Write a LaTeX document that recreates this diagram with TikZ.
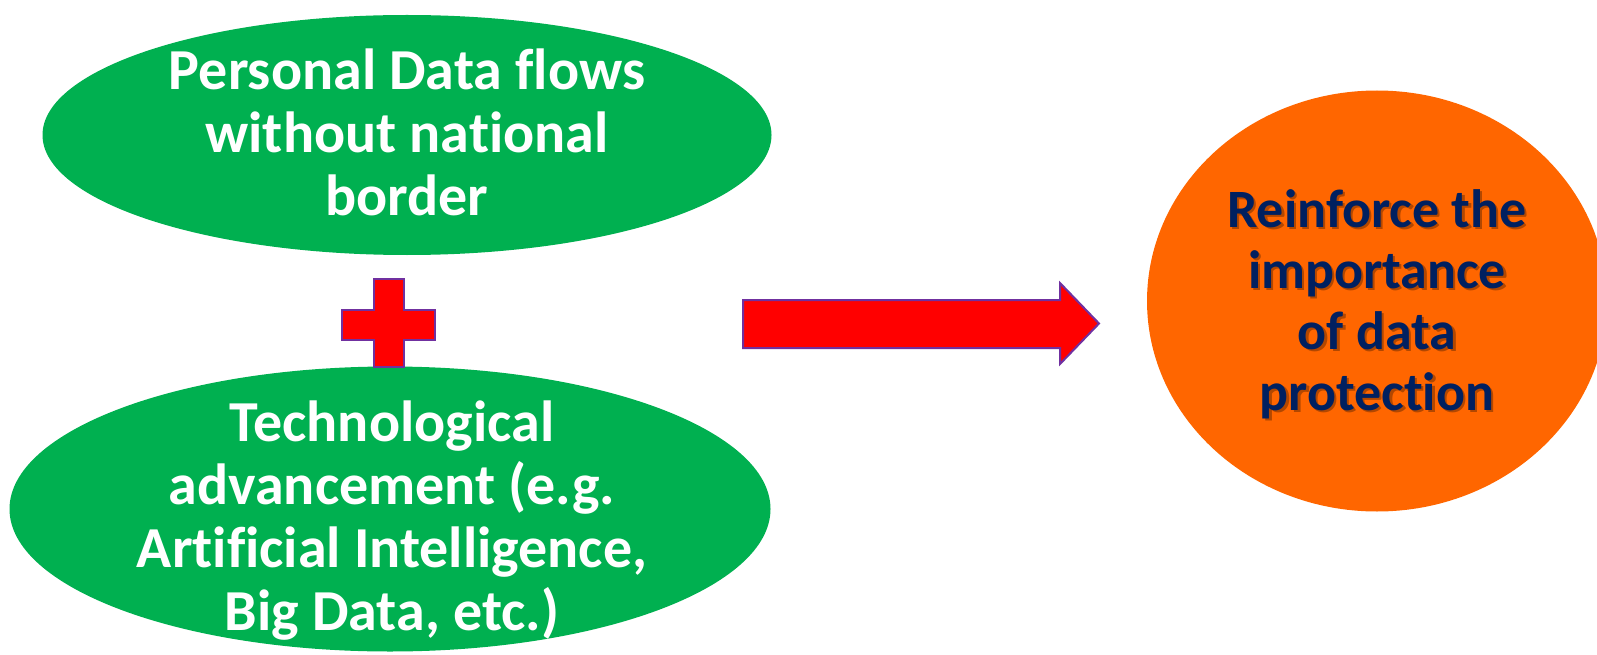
\documentclass[tikz,border=0pt]{standalone}
\usepackage{fontspec}
\setmainfont{Carlito}[RawFeature={-liga;-clig;-dlig;-calt}]
\definecolor{leafgreen}{HTML}{00B050}
\definecolor{sunorange}{HTML}{FF6600}
\definecolor{deepnavy}{HTML}{002060}
\definecolor{edgepurple}{HTML}{7030A0}
\tikzset{
  greenblob/.style={ellipse, fill=leafgreen, draw=none, inner sep=0pt},
  orangeblob/.style={ellipse, fill=sunorange, draw=none, inner sep=0pt},
  whitelabel/.style={text=white, align=center, inner sep=0pt,
    font=\bfseries\fontsize{58}{63}\selectfont},
  navylabel/.style={text=deepnavy, align=center, inner sep=0pt,
    font=\bfseries\fontsize{54}{61}\selectfont},
  shadowlabel/.style={navylabel, text=black, opacity=0.3},
  redshape/.style={fill=red, draw=edgepurple, line width=2pt, line join=miter},
}
\usetikzlibrary{shapes.geometric}
\begin{document}
\begin{tikzpicture}[x=1pt,y=-1pt]
  \useasboundingbox (0,0) rectangle (1597,655);
  \clip (0,0) rectangle (1597,655);

  % left column: two green ellipses joined by a plus sign
  \node[greenblob, minimum width=729pt, minimum height=240pt] (flows) at (407,135) {};
  \node[whitelabel] (flowstext) at (407,132) {Personal Data flows\\without national\\border};

  \node[greenblob, minimum width=761pt, minimum height=285pt] (tech) at (390,509) {};
  \node[whitelabel] (techtext) at (392,521) {Technological\\advancement (e.g.\\Artificial Intelligence,\\Big Data, etc.)};

  \draw[redshape] (374,279) -- (404,279) -- (404,310) -- (435,310) -- (435,340)
    -- (404,340) -- (404,367) -- (374,367) -- (374,340) -- (342,340)
    -- (342,310) -- (374,310) -- cycle;

  % block arrow towards the result
  \draw[redshape] (743,300) -- (1060,300) -- (1060,283) -- (1099,323.5)
    -- (1060,364) -- (1060,348) -- (743,348) -- cycle;

  % result circle
  \node[orangeblob, minimum width=460pt, minimum height=421pt] (result) at (1377,301) {};
  \node[shadowlabel] (resultshadow) at (1379.5,306.5) {Reinforce the\\importance\\of data\\protection};
  \node[navylabel] (resulttext) at (1377,304) {Reinforce the\\importance\\of data\\protection};
\end{tikzpicture}
\end{document}
